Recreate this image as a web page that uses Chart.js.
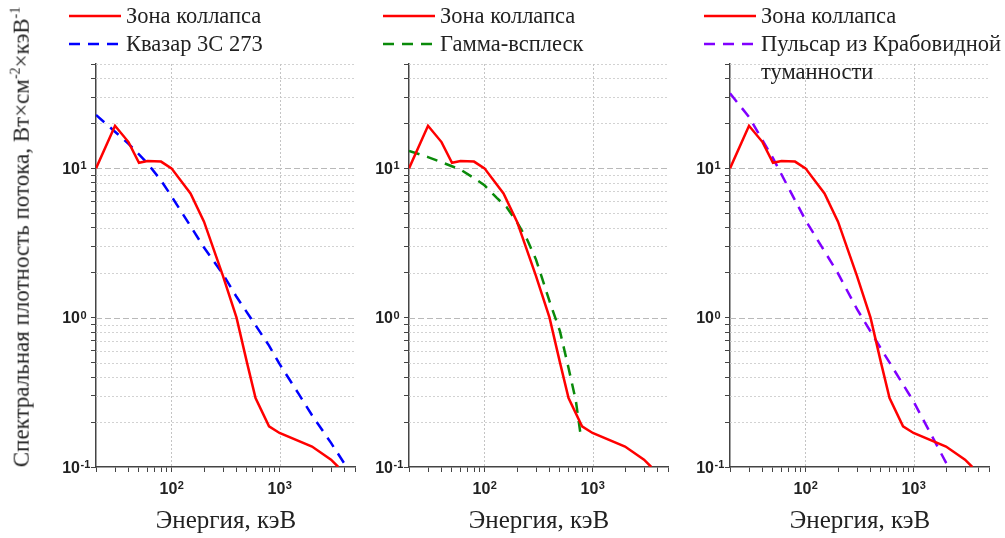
<!DOCTYPE html>
<html>
<head>
<meta charset="utf-8">
<script src="https://cdn.jsdelivr.net/npm/chart.js@4.4.1/dist/chart.umd.min.js"></script>
<style>
  html, body { margin: 0; padding: 0; background: #fff; }
  #wrap { position: relative; width: 1005px; height: 538px; overflow: hidden;
          font-family: "Liberation Serif", "Times New Roman", serif; color: #222; }
  #wrap canvas { position: absolute; left: 0; top: 0; }
  .leg { position: absolute; top: 2px; font-size: 22.5px; line-height: 28px; }
  .row { display: flex; align-items: flex-start; }
  .row svg { flex: none; margin-right: 5px; }
  .xt { position: absolute; top: 505px; font-size: 25px; line-height: 30px; transform: translateX(-50%); white-space: nowrap; }
  .yt { position: absolute; left: 21px; top: 237px; font-size: 23px; white-space: nowrap;
        transform: translate(-50%, -50%) rotate(-90deg); }
  .yt sup { font-size: 14px; }
</style>
</head>
<body>
<div id="wrap">
  <canvas id="c1" width="1005" height="538"></canvas>
  <canvas id="c2" width="1005" height="538"></canvas>
  <canvas id="c3" width="1005" height="538"></canvas>

  <div class="leg" style="left:69px">
    <div class="row"><svg width="52" height="28"><line x1="0" y1="14" x2="52" y2="14" stroke="#ff0000" stroke-width="2.5"/></svg><span>Зона коллапса</span></div>
    <div class="row"><svg width="52" height="28"><line x1="0" y1="14" x2="52" y2="14" stroke="#0000ff" stroke-width="2.5" stroke-dasharray="11 8"/></svg><span>Квазар 3C 273</span></div>
  </div>
  <div class="leg" style="left:383px">
    <div class="row"><svg width="52" height="28"><line x1="0" y1="14" x2="52" y2="14" stroke="#ff0000" stroke-width="2.5"/></svg><span>Зона коллапса</span></div>
    <div class="row"><svg width="52" height="28"><line x1="0" y1="14" x2="52" y2="14" stroke="#0a8a0a" stroke-width="2.5" stroke-dasharray="11 8"/></svg><span>Гамма-всплеск</span></div>
  </div>
  <div class="leg" style="left:704px">
    <div class="row"><svg width="52" height="28"><line x1="0" y1="14" x2="52" y2="14" stroke="#ff0000" stroke-width="2.5"/></svg><span>Зона коллапса</span></div>
    <div class="row"><svg width="52" height="28"><line x1="0" y1="14" x2="52" y2="14" stroke="#8000ff" stroke-width="2.5" stroke-dasharray="11 8"/></svg><span>Пульсар из Крабовидной<br>туманности</span></div>
  </div>

  <div class="xt" style="left:226px">Энергия, кэВ</div>
  <div class="xt" style="left:539px">Энергия, кэВ</div>
  <div class="xt" style="left:860px">Энергия, кэВ</div>
  <div class="yt">Спектральная плотность потока, Вт×см<sup>-2</sup>×кэВ<sup>-1</sup></div>
</div>

<script>
// energy, keV
const energyCollapse = [20, 30, 40, 50, 60, 80, 100, 150, 200, 300, 400, 500, 600, 800, 1000, 2000, 3000, 3500];
const fluxCollapse   = [10, 19.3, 15, 10.9, 11.2, 11.1, 10, 6.8, 4.4, 1.9, 1.0, 0.5, 0.29, 0.187, 0.169, 0.137, 0.112, 0.1];

const energyQuasar = [20, 30, 40, 50, 60, 80, 100, 150, 200, 300, 400, 600, 800, 1000, 1500, 2000, 3000, 4000];
const fluxQuasar   = [22.8, 17.6, 14.6, 12.4, 10.8, 8.3, 6.5, 4.1, 2.95, 1.95, 1.38, 0.89, 0.65, 0.49, 0.31, 0.222, 0.145, 0.105];

const energyGrb = [20, 30, 40, 60, 80, 100, 130, 160, 200, 250, 300, 400, 500, 600, 700, 780];
const fluxGrb   = [13.1, 11.9, 11.0, 9.8, 8.6, 7.7, 6.35, 5.5, 4.37, 3.3, 2.45, 1.29, 0.81, 0.46, 0.28, 0.16];

const energyCrab = [20, 30, 50, 100, 200, 300, 500, 1000, 2000, 2120];
const fluxCrab   = [31.8, 22.1, 11.7, 4.5, 1.98, 1.14, 0.62, 0.275, 0.107, 0.1];

const xTicks = [20, 30, 40, 50, 60, 70, 80, 90, 100, 200, 300, 400, 500, 600, 700, 800, 900, 1000, 2000, 3000, 4000, 5000];
const yTicks = [0.1, 0.2, 0.3, 0.4, 0.5, 0.6, 0.7, 0.8, 0.9, 1, 2, 3, 4, 5, 6, 7, 8, 9, 10, 20, 30, 40, 50];

const W = 1005, H = 538, Y_W = 40, X_H = 30;

function isPow10(v) {
  const l = Math.log10(v);
  return Math.abs(l - Math.round(l)) < 1e-9;
}

function pts(xs, ys) {
  return xs.map((x, i) => ({ x: x, y: ys[i] }));
}

// draws "10" with a raised exponent
function powLabel(ctx, v, cx, cy, alignRight) {
  const exp = String(Math.round(Math.log10(v)));
  ctx.font = 'bold 11px "Liberation Sans", Arial, sans-serif';
  const wExp = ctx.measureText(exp).width;
  ctx.font = 'bold 16px "Liberation Sans", Arial, sans-serif';
  const w10 = ctx.measureText('10').width;
  const x0 = alignRight ? cx - w10 : cx - (w10 + wExp) / 2;
  ctx.textAlign = 'left';
  ctx.textBaseline = 'alphabetic';
  ctx.fillText('10', x0, cy + 5.8);
  ctx.font = 'bold 11px "Liberation Sans", Arial, sans-serif';
  ctx.fillText(exp, x0 + w10 + 0.5, cy + 1);
}

const logGrid = {
  id: 'logGrid',
  beforeDatasetsDraw(chart) {
    const { ctx, chartArea: a, scales } = chart;
    ctx.save();
    ctx.lineWidth = 1;
    yTicks.forEach(v => {
      if (v === yTicks[0]) return;
      const py = Math.round(scales.y.getPixelForValue(v)) + 0.5;
      const major = isPow10(v);
      ctx.strokeStyle = major ? '#b9b9b9' : '#d2d2d2';
      ctx.setLineDash(major ? [6, 3] : [2, 2]);
      ctx.beginPath();
      ctx.moveTo(a.left, py);
      ctx.lineTo(a.right, py);
      ctx.stroke();
    });
    xTicks.filter(isPow10).forEach(v => {
      const px = Math.round(scales.x.getPixelForValue(v)) + 0.5;
      ctx.strokeStyle = '#c4c4c4';
      ctx.setLineDash([2, 2]);
      ctx.beginPath();
      ctx.moveTo(px, a.top);
      ctx.lineTo(px, a.bottom);
      ctx.stroke();
    });
    ctx.restore();
  },
  afterDraw(chart) {
    const { ctx, chartArea: a, scales } = chart;
    ctx.save();
    ctx.fillStyle = '#222';
    yTicks.filter(isPow10).forEach(v => {
      powLabel(ctx, v, a.left - 16, scales.y.getPixelForValue(v), true);
    });
    xTicks.filter(isPow10).forEach(v => {
      powLabel(ctx, v, scales.x.getPixelForValue(v), a.bottom + 21, false);
    });
    ctx.restore();
  }
};

function axisOpts(ticks, min, max, fit) {
  return {
    type: 'logarithmic',
    min: min,
    max: max,
    afterBuildTicks: s => { s.ticks = ticks.map(v => ({ value: v })); },
    afterFit: fit,
    ticks: { autoSkip: false, callback: () => '' },
    grid: { drawOnChartArea: false, drawTicks: true, tickLength: 5, tickColor: '#444', tickWidth: 1 },
    border: { display: true, color: '#444', width: 1.5 }
  };
}

function makePanel(id, left, right, partner) {
  const top = 64, bottom = 467;
  return new Chart(document.getElementById(id), {
    type: 'line',
    data: {
      datasets: [
        { label: 'Зона коллапса', data: pts(energyCollapse, fluxCollapse),
          borderColor: '#ff0000', borderWidth: 2.5, pointRadius: 0, tension: 0, fill: false },
        Object.assign({ pointRadius: 0, tension: 0, fill: false, borderWidth: 2.5, borderDash: [11, 8] }, partner)
      ]
    },
    options: {
      responsive: false,
      animation: false,
      devicePixelRatio: 1,
      layout: { padding: { left: left - Y_W, right: W - right, top: top, bottom: H - bottom - X_H } },
      plugins: { legend: { display: false }, tooltip: { enabled: false } },
      scales: {
        x: axisOpts(xTicks, 20, 5000, s => { s.height = X_H; }),
        y: axisOpts(yTicks, 0.1, 50, s => { s.width = Y_W; })
      }
    },
    plugins: [logGrid]
  });
}

makePanel('c1', 96, 355, { label: 'Квазар 3C 273', data: pts(energyQuasar, fluxQuasar), borderColor: '#0000ff' });
makePanel('c2', 409, 668, { label: 'Гамма-всплеск', data: pts(energyGrb, fluxGrb), borderColor: '#0a8a0a' });
makePanel('c3', 730, 989, { label: 'Пульсар из Крабовидной туманности', data: pts(energyCrab, fluxCrab), borderColor: '#8000ff' });
</script>
</body>
</html>
